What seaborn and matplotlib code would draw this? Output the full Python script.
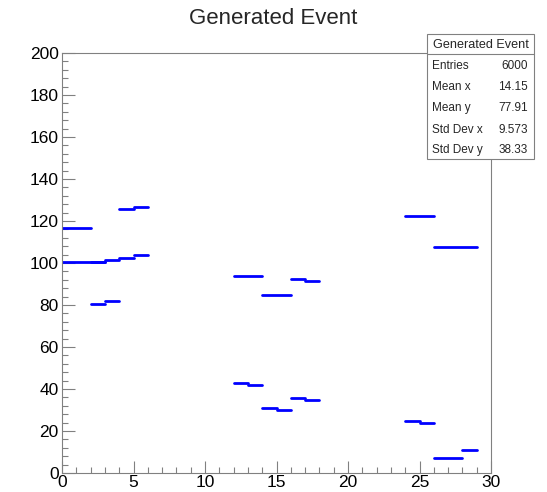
import numpy as np
import pandas as pd
import seaborn as sns
import matplotlib
matplotlib.use("Agg")
import matplotlib.pyplot as plt
from matplotlib.ticker import MultipleLocator

# segment data: x start, x end, y level
x_start = [0, 0, 2, 3, 2, 3, 4, 5, 4, 5,
           12, 12, 13, 14, 14, 15, 16, 16, 17, 17,
           24, 24, 25, 26, 26, 28]
x_end = [2, 3, 3, 4, 3, 4, 5, 6, 5, 6,
         14, 13, 14, 16, 15, 16, 17, 17, 18, 18,
         26, 25, 26, 29, 28, 29]
y_level = [116.6, 100.7, 100.7, 101.6, 80.6, 81.7, 102.6, 103.7, 125.5, 126.5,
           93.6, 42.8, 42.0, 84.7, 30.9, 29.8, 92.6, 35.8, 91.5, 34.7,
           122.6, 24.9, 23.9, 107.5, 7.0, 10.9]

stat_labels = ["Entries", "Mean x", "Mean y", "Std Dev x", "Std Dev y"]
stat_values = ["6000", "14.15", "77.91", "9.573", "38.33"]

rows = []
for i, (a, b, y) in enumerate(zip(x_start, x_end, y_level)):
    rows.append({"x": a, "y": y, "seg": i})
    rows.append({"x": b, "y": y, "seg": i})
df = pd.DataFrame(rows)

sns.set_theme(style="white")
plt.rcParams['font.family'] = ['Liberation Sans', 'DejaVu Sans']

fig = plt.figure(figsize=(5.47, 4.92), dpi=100)
ax = fig.add_axes([62/547, 1-473/492, (491-62)/547, (473-53)/492])

sns.lineplot(data=df, x="x", y="y", units="seg", estimator=None, ax=ax,
             color="#0000ff", linewidth=2.0, legend=False)

ax.set_xlim(0, 30)
ax.set_ylim(0, 200)
ax.set_xlabel("")
ax.set_ylabel("")
ax.xaxis.set_major_locator(MultipleLocator(5))
ax.xaxis.set_minor_locator(MultipleLocator(1))
ax.yaxis.set_major_locator(MultipleLocator(20))
ax.yaxis.set_minor_locator(MultipleLocator(4))
ax.tick_params(which="both", direction="in", labelcolor="#000000", labelsize=12.5,
               top=False, right=False, bottom=True, left=True, width=0.8,
               color="#808080")
ax.tick_params(axis="x", which="both", pad=1.5)
ax.tick_params(axis="y", which="both", pad=2.5)
ax.tick_params(which="major", length=9)
ax.tick_params(which="minor", length=4.5)
for sp in ax.spines.values():
    sp.set_color("#808080")
    sp.set_linewidth(0.8)

fig.text(273/547, 1-18/492, "Generated Event", ha="center", va="center", fontsize=16)

# stats box
bx0, bx1, by0, by1 = 427/547, 534/547, 1-34/492, 1-159/492
box = plt.Rectangle((bx0, by1), bx1-bx0, by0-by1, transform=fig.transFigure,
                    facecolor="white", edgecolor="#808080", linewidth=0.8, zorder=5)
fig.add_artist(box)
sep_y = 1-54/492
fig.add_artist(plt.Line2D([bx0, bx1], [sep_y, sep_y], transform=fig.transFigure,
                          color="#808080", linewidth=0.8, zorder=6))
fig.text((bx0+bx1)/2, 1-45/492, "Generated Event", ha="center", va="center",
         fontsize=9.1, zorder=7)
row_y = [66, 87, 108, 130, 150]
for lab, val, yy in zip(stat_labels, stat_values, row_y):
    fig.text(432/547, 1-yy/492, lab, ha="left", va="center", fontsize=8.5, zorder=7)
    fig.text(528/547, 1-yy/492, val, ha="right", va="center", fontsize=8.5, zorder=7)

fig.savefig("out.png", dpi=100)
